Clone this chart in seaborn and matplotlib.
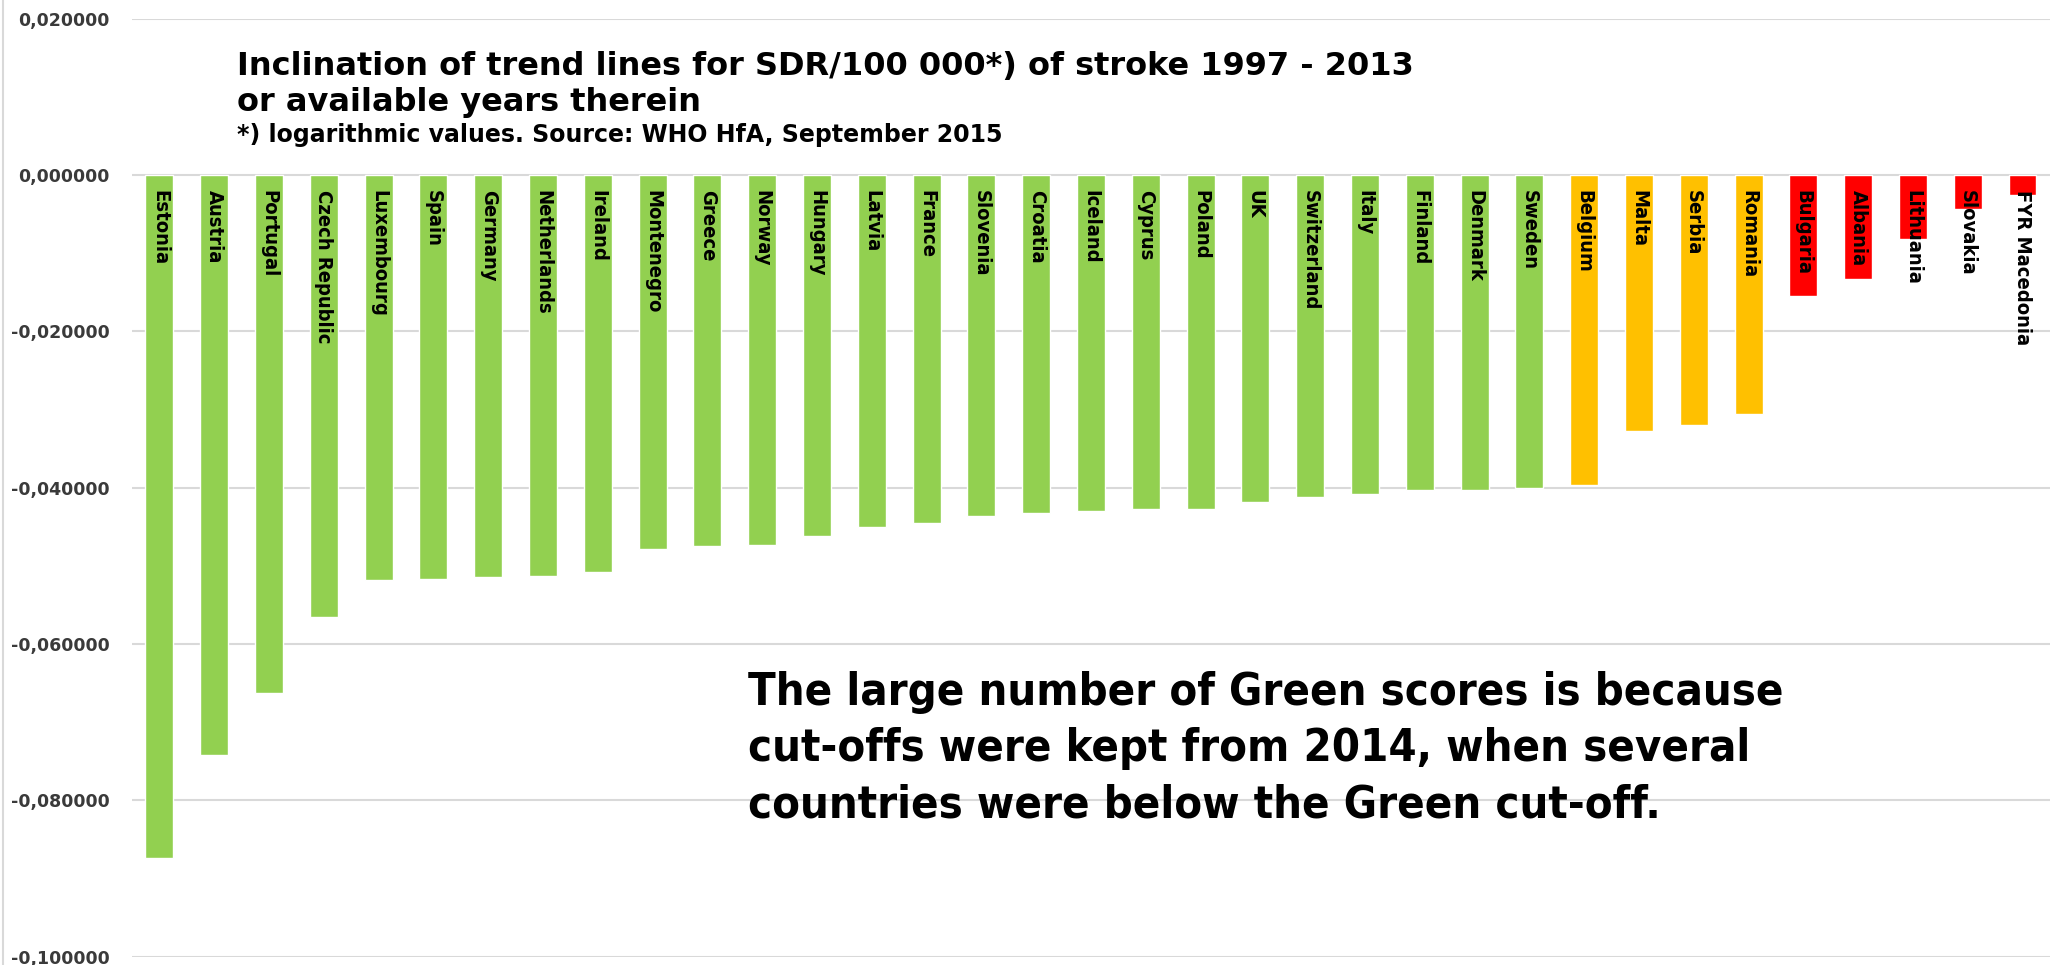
import matplotlib
matplotlib.use('Agg')
import matplotlib.pyplot as plt
from matplotlib.lines import Line2D
from matplotlib import font_manager
import numpy as np
import pandas as pd
import seaborn as sns

# data
countries = ['Estonia', 'Austria', 'Portugal', 'Czech Republic', 'Luxembourg', 'Spain', 'Germany',
             'Netherlands', 'Ireland', 'Montenegro', 'Greece', 'Norway', 'Hungary', 'Latvia', 'France',
             'Slovenia', 'Croatia', 'Iceland', 'Cyprus', 'Poland', 'UK', 'Switzerland', 'Italy', 'Finland',
             'Denmark', 'Sweden', 'Belgium', 'Malta', 'Serbia', 'Romania', 'Bulgaria', 'Albania',
             'Lithuania', 'Slovakia', 'FYR Macedonia']
slopes = [-0.0874, -0.0742, -0.0663, -0.0566, -0.0518, -0.0517, -0.0515,
          -0.0513, -0.0508, -0.0478, -0.0475, -0.0473, -0.0462, -0.0450, -0.0445,
          -0.0436, -0.0432, -0.0430, -0.0427, -0.0427, -0.0418, -0.0412, -0.0408, -0.0403,
          -0.0403, -0.0401, -0.0397, -0.0327, -0.0320, -0.0306, -0.0155, -0.0133,
          -0.0082, -0.0044, -0.0026]
score = ['green'] * 26 + ['yellow'] * 4 + ['red'] * 5
score_colors = {'green': '#92d050', 'yellow': '#ffc000', 'red': '#ff0000'}

yticks = [0.02, 0.0, -0.02, -0.04, -0.06, -0.08, -0.10]

title_lines = ['Inclination of trend lines for SDR/100 000*) of stroke 1997 - 2013',
               'or available years therein']
subtitle = '*) logarithmic values. Source: WHO HfA, September 2015'
note_lines = ['The large number of Green scores is because',
              'cut-offs were kept from 2014, when several',
              'countries were below the Green cut-off.']

df = pd.DataFrame({'country': countries, 'slope': slopes, 'score': score})

sns.set_style('white')

# is a condensed DejaVu around? otherwise just shrink the normal one
fp = font_manager.FontProperties(family='DejaVu Sans', stretch='condensed', weight='bold')
have_cond = 'Condensed' in font_manager.findfont(fp, fallback_to_default=True)
stretch = 'condensed' if have_cond else 'normal'
label_size = 14.5 if have_cond else 13
note_size = 32.5 if have_cond else 30

fig = plt.figure(figsize=(20.53, 9.65), dpi=100)
ax = fig.add_axes([0.0643, 0.0088, 0.9342, 0.9718])

palette = {c: score_colors[s] for c, s in zip(countries, score)}
sns.barplot(data=df, x='country', y='slope', hue='country', palette=palette,
            legend=False, width=0.51, saturation=1, ax=ax)

ax.set_ylim(-0.1, 0.02)
ax.set_xlim(-0.5, len(countries) - 0.5)
ax.set_yticks(yticks)
ax.set_yticklabels([f'{v:.6f}'.replace('.', ',') for v in yticks],
                   fontsize=12.5, fontweight='bold', color='#3a3a3a')
ax.tick_params(axis='y', length=0, pad=16)
ax.set_xticks([])
ax.set_xlabel('')
ax.set_ylabel('')
ax.grid(axis='y', color='#d9d9d9', lw=1.5)
ax.set_axisbelow(True)
for sp in ax.spines.values():
    sp.set_visible(False)

# country names inside the bars
for i, name in enumerate(countries):
    ax.text(i, -0.0019, name, rotation=-90, ha='center', va='top',
            fontsize=label_size, fontweight='bold', fontstretch=stretch, color='black')

# titles
fig.text(237 / 2053, 1 - 75 / 965, title_lines[0], fontsize=23, fontweight='bold',
         color='black', va='baseline')
fig.text(237 / 2053, 1 - 111 / 965, title_lines[1], fontsize=23, fontweight='bold',
         color='black', va='baseline')
fig.text(237 / 2053, 1 - 142 / 965, subtitle, fontsize=17, fontweight='bold',
         color='black', va='baseline')

# note
for k, line in enumerate(note_lines):
    fig.text(748 / 2053, 1 - (705 + 56.5 * k) / 965, line, fontsize=note_size, fontweight='bold',
             fontstretch=stretch, color='black', va='baseline')

fig.add_artist(Line2D([0.0015, 0.0015], [0, 1], color='#d9d9d9', lw=1.5))

fig.savefig('out.png', dpi=100)
